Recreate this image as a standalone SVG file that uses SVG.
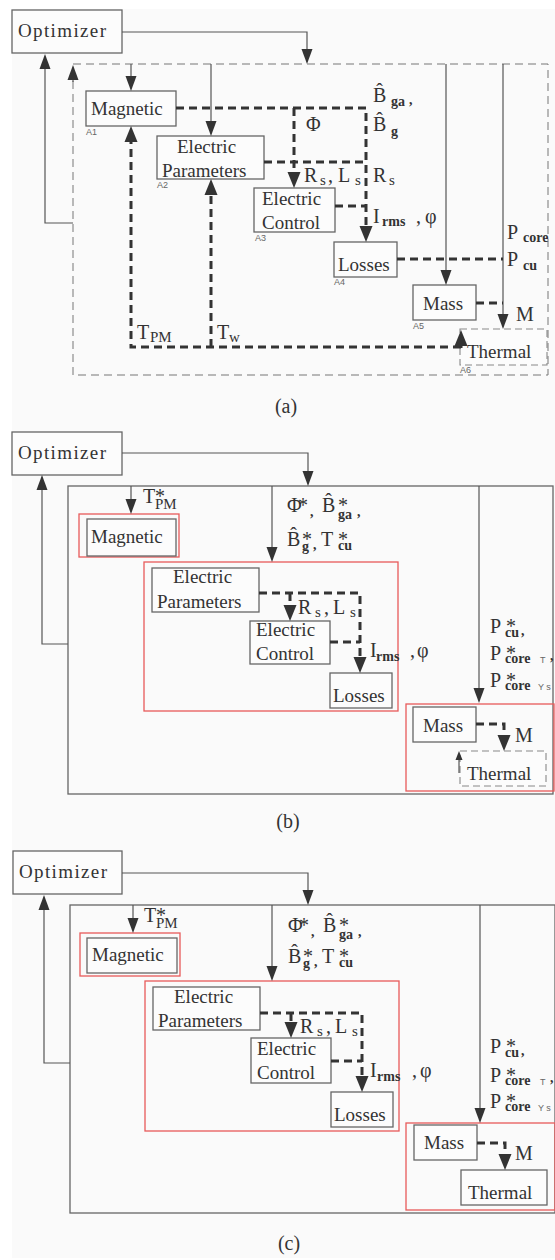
<svg xmlns="http://www.w3.org/2000/svg" width="555" height="1260" viewBox="0 0 555 1260">
<defs>
<style>
.n{fill:#fcfcfc;stroke:#666;stroke-width:1.3}
.nd{fill:#fcfcfc;stroke:#888;stroke-width:1.1;stroke-dasharray:7 4}
.red{fill:none;stroke:#e85a5a;stroke-width:1.3}
.t{font-family:"Liberation Serif","Times New Roman",serif;font-size:19px;fill:#333}
.lab{font-family:"Liberation Serif","Times New Roman",serif;font-size:20px;fill:#333}
.sub{font-size:14px;font-weight:bold}
.subr{font-size:15px;font-weight:normal}
.big{font-size:20px;font-weight:normal}
.tiny{font-family:"Liberation Sans",Arial,sans-serif;font-size:9px;fill:#666;font-weight:normal}
.thin{fill:none;stroke:#555;stroke-width:1.2}
.thick{fill:none;stroke:#333;stroke-width:3;stroke-dasharray:8 5}
.outd{fill:none;stroke:#777;stroke-width:1;stroke-dasharray:8 5}
.out{fill:none;stroke:#666;stroke-width:1.3}
</style>
<marker id="ah" viewBox="0 -6 15 12" refX="0" refY="0" markerWidth="15" markerHeight="12" markerUnits="userSpaceOnUse" orient="auto"><path d="M0,-5.5 L15,0 L0,5.5 z" fill="#333"/></marker>
<marker id="ahb" viewBox="0 -7 16 14" refX="0" refY="0" markerWidth="16" markerHeight="14" markerUnits="userSpaceOnUse" orient="auto"><path d="M0,-6.5 L16,0 L0,6.5 z" fill="#333"/></marker>
<marker id="ahs" viewBox="0 -4 9 8" refX="0" refY="0" markerWidth="9" markerHeight="8" markerUnits="userSpaceOnUse" orient="auto"><path d="M0,-3.5 L9,0 L0,3.5 z" fill="#333"/></marker>
</defs>
<rect x="0" y="0" width="555" height="1260" fill="#ffffff"/>
<rect x="12" y="9" width="543" height="1249" fill="#fafafa"/>

<!-- ===== Panel (a) ===== -->
<g id="panel-a">
<rect class="outd" x="73" y="64" width="475" height="311"/>
<g id="a-optimizer"><rect class="n" x="12" y="10" width="110" height="43"/><text class="t" x="18" y="37" font-size="20" textLength="88">Optimizer</text></g>
<g id="a-magnetic"><rect class="n" x="86" y="91" width="90" height="35"/><text class="t" x="91" y="115">Magnetic</text><text class="tiny" x="86" y="135">A1</text></g>
<g id="a-electric-parameters"><rect class="n" x="157" y="136" width="107" height="43"/><text class="t" x="177" y="153">Electric</text><text class="t" x="162" y="177">Parameters</text><text class="tiny" x="157" y="188">A2</text></g>
<g id="a-electric-control"><rect class="n" x="254" y="188" width="81" height="44"/><text class="t" x="262" y="205">Electric</text><text class="t" x="262" y="229">Control</text><text class="tiny" x="255" y="241">A3</text></g>
<g id="a-losses"><rect class="n" x="334" y="242" width="63" height="35"/><text class="t" x="338" y="271">Losses</text><text class="tiny" x="334" y="285">A4</text></g>
<g id="a-mass"><rect class="n" x="413" y="285" width="63" height="35"/><text class="t" x="423" y="310">Mass</text><text class="tiny" x="413" y="329">A5</text></g>
<g id="a-thermal"><rect class="nd" x="460" y="329" width="87" height="36"/><text class="t" x="467" y="358">Thermal</text><text class="tiny" x="460" y="373">A6</text></g>
<g id="a-connectors">
<path class="thin" d="M122,32 H307 V49" marker-end="url(#ah)"/>
<path class="thin" d="M131,64 V76" marker-end="url(#ah)"/>
<path class="thin" d="M211,64 V121" marker-end="url(#ah)"/>
<path class="thin" d="M446,64 V270" marker-end="url(#ah)"/>
<path class="thin" d="M503,64 V314" marker-end="url(#ah)"/>
<path class="thin" d="M73,223 H45 V69" marker-end="url(#ah)"/>
<path class="thin" d="M73,82 V80" marker-end="url(#ah)" stroke="none"/>
<path class="thick" d="M176,108 H366 V226" marker-end="url(#ahb)"/>
<path class="thick" d="M294,108 V172" marker-end="url(#ahb)"/>
<path class="thick" d="M264,162 H366"/>
<path class="thick" d="M335,206 H366"/>
<path class="thick" d="M397,259 H503"/>
<path class="thick" d="M476,303 H503"/>
<path class="thick" d="M461,347 H131 V142" marker-end="url(#ahb)"/>
<path class="thick" d="M211,347 V195" marker-end="url(#ahb)"/>
<path class="thick" d="M461,348 V346" stroke-dasharray="none" marker-end="url(#ahb)"/>
</g>
<g id="a-labels">
<text class="lab" x="306" y="131">Φ</text>
<text class="lab" x="373" y="102">B&#x302;<tspan class="sub" x="391" y="106">ga</tspan><tspan class="sub" x="409" y="104">,</tspan></text>
<text class="lab" x="373" y="131">B&#x302;<tspan class="sub" x="391" y="136">g</tspan></text>
<text class="lab" x="304" y="182">R<tspan class="subr" x="320" y="185">s</tspan><tspan x="328" y="182">,</tspan><tspan x="338" y="182">L</tspan><tspan class="subr" x="355" y="185">s</tspan></text>
<text class="lab" x="373" y="182">R<tspan class="subr" x="389" y="185">s</tspan></text>
<text class="lab" x="373" y="223" font-size="22">I<tspan class="sub" x="382" y="226">rms</tspan><tspan class="big" x="416" y="223">,</tspan><tspan class="big" x="425" y="223">φ</tspan></text>
<text class="lab" x="507" y="239" font-size="23">P<tspan class="sub" x="523" y="242">core</tspan></text>
<text class="lab" x="507" y="266" font-size="23">P<tspan class="sub" x="523" y="270">cu</tspan></text>
<text class="lab" x="516" y="321" font-size="21">M</text>
<text class="lab" x="137" y="339">T<tspan class="subr" x="150" y="342">PM</tspan></text>
<text class="lab" x="217" y="339">T<tspan class="subr" x="229" y="342">w</tspan></text>
<text class="lab" x="286" y="413" text-anchor="middle">(a)</text>
</g>
</g>

<!-- ===== Panel (b) ===== -->
<g id="panel-b">
<rect class="out" x="68" y="486" width="485" height="308"/>
<g id="b-optimizer"><rect class="n" x="12" y="432" width="110" height="43"/><text class="t" x="18" y="459" font-size="20" textLength="88">Optimizer</text></g>
<g id="b-magnetic"><rect class="red" x="79" y="514" width="100" height="43"/><rect class="n" x="87" y="519" width="89" height="37"/><text class="t" x="91" y="543">Magnetic</text></g>
<g id="b-electric-group"><rect class="red" x="144" y="562" width="254" height="149"/></g>
<g id="b-electric-parameters"><rect class="n" x="152" y="568" width="107" height="44"/><text class="t" x="173" y="583">Electric</text><text class="t" x="157" y="608">Parameters</text></g>
<g id="b-electric-control"><rect class="n" x="250" y="621" width="80" height="43"/><text class="t" x="256" y="636">Electric</text><text class="t" x="256" y="660">Control</text></g>
<g id="b-losses"><rect class="n" x="330" y="673" width="62" height="35"/><text class="t" x="333" y="702">Losses</text></g>
<g id="b-mass-thermal-group"><rect class="red" x="406" y="704" width="148" height="87"/></g>
<g id="b-mass"><rect class="n" x="413" y="707" width="63" height="35"/><text class="t" x="423" y="732">Mass</text></g>
<g id="b-thermal"><rect class="nd" x="460" y="751" width="86" height="35"/><text class="t" x="467" y="780">Thermal</text></g>
<g id="b-connectors">
<path class="thin" d="M122,453 H308 V471" marker-end="url(#ah)"/>
<path class="thin" d="M68,644 H42 V490" marker-end="url(#ah)"/>
<path class="thin" d="M131,486 V499" marker-end="url(#ah)"/>
<path class="thin" d="M272,486 V547" marker-end="url(#ah)"/>
<path class="thin" d="M479,486 V688" marker-end="url(#ah)"/>
<path class="thick" d="M259,593 H360 V657" marker-end="url(#ahb)"/>
<path class="thick" d="M290,593 V605" marker-end="url(#ahb)"/>
<path class="thick" d="M330,642 H360"/>
<path class="thick" d="M476,724 H504 V735" marker-end="url(#ahb)"/>
<path class="thin" d="M459,773 V760" marker-end="url(#ahs)"/>
</g>
<g id="b-labels">
<text class="lab" x="143" y="503">T<tspan x="155" y="503">*</tspan><tspan class="subr" x="155" y="509">PM</tspan></text>
<text class="lab" x="287" y="512">Φ<tspan x="298" y="512">*</tspan><tspan class="sub" x="310" y="516">,</tspan><tspan x="322" y="512">B&#x302;</tspan><tspan x="338" y="512">*</tspan><tspan class="sub" x="338" y="519">ga</tspan><tspan class="sub" x="357" y="516">,</tspan></text>
<text class="lab" x="287" y="546">B&#x302;<tspan x="302" y="546">*</tspan><tspan class="sub" x="302" y="551">g</tspan><tspan class="sub" x="313" y="549">,</tspan><tspan x="321" y="546">T</tspan><tspan x="338" y="546">*</tspan><tspan class="sub" x="338" y="550">cu</tspan></text>
<text class="lab" x="298" y="614">R<tspan class="subr" x="315" y="617">s</tspan><tspan x="324" y="614">,</tspan><tspan x="333" y="614">L</tspan><tspan class="subr" x="350" y="617">s</tspan></text>
<text class="lab" x="370" y="657">I<tspan class="sub" x="376" y="661">rms</tspan><tspan x="410" y="657">,</tspan><tspan x="417" y="657">φ</tspan></text>
<text class="lab" x="490" y="633">P<tspan x="506" y="633">*</tspan><tspan class="sub" x="505" y="637">cu</tspan><tspan class="sub" x="521" y="635">,</tspan></text>
<text class="lab" x="490" y="660">P<tspan x="506" y="660">*</tspan><tspan class="sub" x="505" y="663">core</tspan><tspan class="tiny" x="540" y="663">T</tspan><tspan class="sub" x="550" y="660">,</tspan></text>
<text class="lab" x="490" y="687">P<tspan x="506" y="687">*</tspan><tspan class="sub" x="505" y="690">core</tspan><tspan class="tiny" x="538" y="690">Y s</tspan></text>
<text class="lab" x="515" y="742" font-size="21">M</text>
<text class="lab" x="288" y="828" text-anchor="middle">(b)</text>
</g>
</g>

<!-- ===== Panel (c) ===== -->
<g id="panel-c" transform="translate(1,419)">
<rect class="out" x="69" y="486" width="485" height="308"/>
<g id="c-optimizer"><rect class="n" x="12" y="432" width="109" height="43"/><text class="t" x="18" y="459" font-size="20" textLength="88">Optimizer</text></g>
<g id="c-magnetic"><rect class="red" x="79" y="514" width="100" height="43"/><rect class="n" x="86" y="519" width="90" height="35"/><text class="t" x="91" y="542">Magnetic</text></g>
<g id="c-electric-group"><rect class="red" x="144" y="562" width="254" height="150"/></g>
<g id="c-electric-parameters"><rect class="n" x="152" y="568" width="107" height="43"/><text class="t" x="173" y="584">Electric</text><text class="t" x="157" y="608">Parameters</text></g>
<g id="c-electric-control"><rect class="n" x="250" y="619" width="80" height="45"/><text class="t" x="256" y="636">Electric</text><text class="t" x="256" y="660">Control</text></g>
<g id="c-losses"><rect class="n" x="330" y="673" width="62" height="35"/><text class="t" x="333" y="702">Losses</text></g>
<g id="c-mass-thermal-group"><rect class="red" x="405" y="704" width="149" height="87"/></g>
<g id="c-mass"><rect class="n" x="413" y="706" width="63" height="35"/><text class="t" x="423" y="730">Mass</text></g>
<g id="c-thermal"><rect class="n" x="460" y="751" width="86" height="35"/><text class="t" x="467" y="780">Thermal</text></g>
<g id="c-connectors">
<path class="thin" d="M121,454 H307 V471" marker-end="url(#ah)"/>
<path class="thin" d="M69,644 H43 V491" marker-end="url(#ah)"/>
<path class="thin" d="M132,486 V499" marker-end="url(#ah)"/>
<path class="thin" d="M271,486 V547" marker-end="url(#ah)"/>
<path class="thin" d="M479,486 V689" marker-end="url(#ah)"/>
<path class="thick" d="M259,594 H361 V657" marker-end="url(#ahb)"/>
<path class="thick" d="M290,594 V603" marker-end="url(#ahb)"/>
<path class="thick" d="M330,642 H361"/>
<path class="thick" d="M476,724 H504 V735" marker-end="url(#ahb)"/>
</g>
<g id="c-labels">
<text class="lab" x="143" y="503">T<tspan x="155" y="503">*</tspan><tspan class="subr" x="155" y="509">PM</tspan></text>
<text class="lab" x="287" y="513">Φ<tspan x="298" y="513">*</tspan><tspan class="sub" x="310" y="517">,</tspan><tspan x="322" y="513">B&#x302;</tspan><tspan x="338" y="513">*</tspan><tspan class="sub" x="338" y="520">ga</tspan><tspan class="sub" x="357" y="517">,</tspan></text>
<text class="lab" x="287" y="544">B&#x302;<tspan x="302" y="544">*</tspan><tspan class="sub" x="302" y="549">g</tspan><tspan class="sub" x="313" y="547">,</tspan><tspan x="321" y="544">T</tspan><tspan x="338" y="544">*</tspan><tspan class="sub" x="338" y="548">cu</tspan></text>
<text class="lab" x="299" y="614">R<tspan class="subr" x="316" y="617">s</tspan><tspan x="325" y="614">,</tspan><tspan x="334" y="614">L</tspan><tspan class="subr" x="351" y="617">s</tspan></text>
<text class="lab" x="369" y="658">I<tspan class="sub" x="376" y="662">rms</tspan><tspan x="411" y="658">,</tspan><tspan x="419" y="658">φ</tspan></text>
<text class="lab" x="489" y="634">P<tspan x="505" y="634">*</tspan><tspan class="sub" x="504" y="638">cu</tspan><tspan class="sub" x="520" y="636">,</tspan></text>
<text class="lab" x="489" y="663">P<tspan x="505" y="663">*</tspan><tspan class="sub" x="504" y="666">core</tspan><tspan class="tiny" x="539" y="666">T</tspan><tspan class="sub" x="549" y="663">,</tspan></text>
<text class="lab" x="489" y="689">P<tspan x="505" y="689">*</tspan><tspan class="sub" x="504" y="692">core</tspan><tspan class="tiny" x="537" y="692">Y s</tspan></text>
<text class="lab" x="514" y="741" font-size="21">M</text>
<text class="lab" x="288" y="831" text-anchor="middle">(c)</text>
</g>
</g>
</svg>
